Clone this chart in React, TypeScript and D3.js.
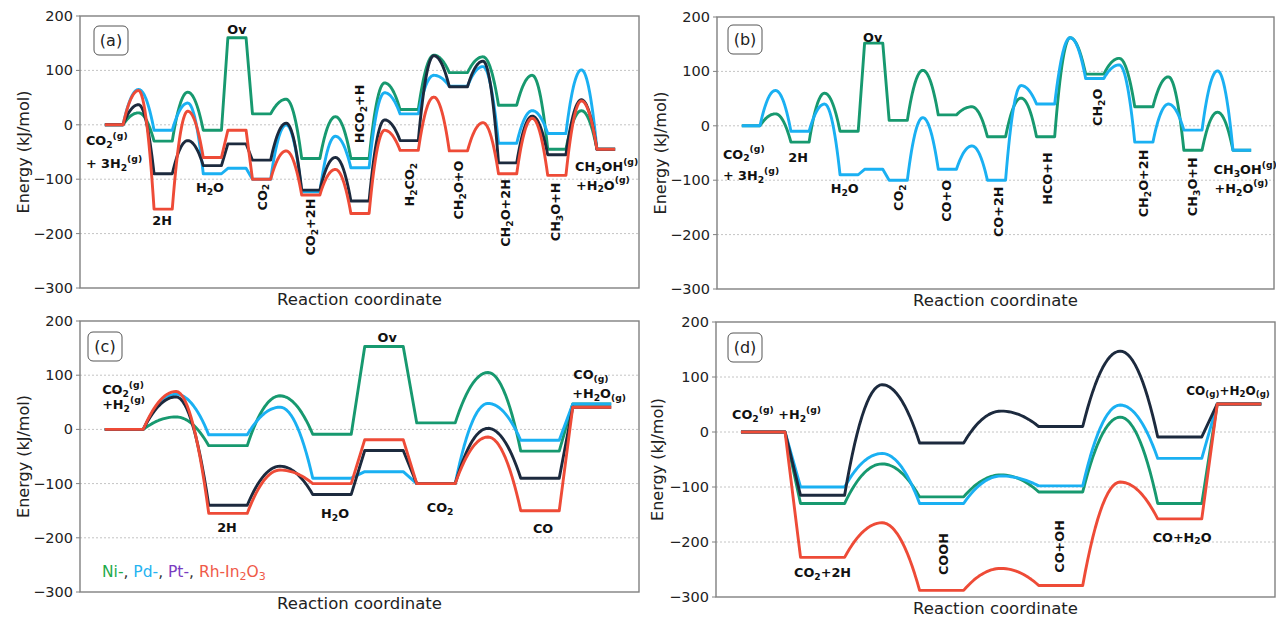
import React from 'react'
import * as d3 from 'd3'

const FONT = 'DejaVu Sans, Verdana, sans-serif'
const COLORS = { Ni: '#17996f', Pd: '#1ab0f2', Pt: '#1c2a3e', Rh: '#ee4b37' }
const Y_TICKS = [200, 100, 0, -100, -200, -300]
const GRID = [100, 0, -100, -200]
const HALF = 0.185 // half width of a plateau, in state units

// (a) CO2 -> CH3OH, four metals
const aPos = [0, 1, 2, 2.5, 3, 4, 5, 6, 7, 8, 9, 10]
const aKind = ['arc', 'arc', 'line', 'line', 'arc', 'arc', 'arc', 'arc', 'arc', 'arc', 'arc']
const aNi = [0, -30, -10, 160, 20, -62, -62, 28, 96, 36, -45, -45]
const aNiTS = [22, 60, null, null, 47, 15, 77, 128, 125, 91, 26]
const aPd = [0, -10, -90, -80, -100, -123, -79, 20, 71, -34, -16, -45]
const aPdTS = [65, 40, null, null, 0, -21, 59, 91, 107, 26, 101]
const aPt = [0, -90, -75, -35, -65, -120, -140, -29, 70, -70, -55, -45]
const aPtTS = [37, -29, null, null, 3, -60, 9, 127, 117, 16, 46]
const aRh = [0, -155, -60, -10, -100, -129, -163, -47, -48, -90, -93, -45]
const aRhTS = [63, 25, null, null, -48, -82, -10, 51, 4, 12, 44]

// (b) CO2 -> CH3OH via CO, Ni and Pd
const bPos = [0, 1, 2, 2.5, 3, 4, 5, 6, 7, 8, 9, 10]
const bKind = ['arc', 'arc', 'line', 'line', 'arc', 'arc', 'arc', 'arc', 'arc', 'arc', 'arc']
const bNi = [0, -30, -10, 152, 10, 20, -20, -20, 95, 35, -45, -45]
const bNiTS = [22, 60, null, null, 102, 35, 51, 162, 124, 90, 25]
const bPd = [0, -10, -90, -80, -100, -80, -100, 40, 87, -30, -8, -45]
const bPdTS = [65, 40, null, null, 15, -37, 74, 162, 112, 40, 101]

// (c) RWGS, redox path
const cPos = [0, 1, 2, 2.5, 3, 4, 4.5]
const cKind = ['arc', 'arc', 'line', 'line', 'arc', 'line']
const cNi = [0, -30, -9, 153, 12, -40, 47]
const cNiTS = [23, 62, null, null, 105, null]
const cPd = [0, -10, -90, -78, -100, -20, 47]
const cPdTS = [65, 41, null, null, 48, null]
const cPt = [0, -140, -120, -39, -100, -90, 41]
const cPtTS = [60, -68, null, null, 2, null]
const cRh = [0, -155, -100, -19, -100, -150, 41]
const cRhTS = [70, -75, null, null, -14, null]

// (d) RWGS, COOH path
const dPos = [0, 0.5, 1.5, 2.5, 3.5, 4]
const dKind = ['line', 'arc', 'arc', 'arc', 'line']
const dNi = [0, -130, -118, -109, -130, 51]
const dNiTS = [null, -58, -78, 27, null]
const dPd = [0, -100, -130, -98, -48, 51]
const dPdTS = [null, -39, -80, 49, null]
const dPt = [0, -115, -20, 10, -9, 51]
const dPtTS = [null, 86, 38, 147, null]
const dRh = [0, -228, -288, -279, -158, 51]
const dRhTS = [null, -165, -248, -91, null]

// annotations: text, x (state units), y (kJ/mol), r = rotated, a = anchor
const aLabels = [
  { t: 'CO_{2}^{(g)}', x: -0.57, y: -28, a: 'start' },
  { t: '+ 3H_{2}^{(g)}', x: -0.57, y: -70, a: 'start' },
  { t: '2H', x: 0.98, y: -175 },
  { t: 'H_{2}O', x: 1.95, y: -114 },
  { t: 'Ov', x: 2.5, y: 176 },
  { t: 'CO_{2}', x: 3.0, y: -133, r: true },
  { t: 'CO_{2}+2H', x: 3.98, y: -188, r: true },
  { t: 'HCO_{2}+H', x: 4.98, y: 20, r: true },
  { t: 'H_{2}CO_{2}', x: 6.0, y: -110, r: true },
  { t: 'CH_{2}O+O', x: 7.0, y: -120, r: true },
  { t: 'CH_{2}O+2H', x: 7.95, y: -162, r: true },
  { t: 'CH_{3}O+H', x: 8.96, y: -160, r: true },
  { t: 'CH_{3}OH^{(g)}', x: 9.37, y: -76, a: 'start' },
  { t: '+H_{2}O^{(g)}', x: 9.39, y: -110, a: 'start' },
]
const bLabels = [
  { t: 'Ov', x: 2.48, y: 164 },
  { t: 'CO_{2}^{(g)}', x: -0.57, y: -51, a: 'start' },
  { t: '+ 3H_{2}^{(g)}', x: -0.57, y: -91, a: 'start' },
  { t: '2H', x: 0.96, y: -58 },
  { t: 'H_{2}O', x: 1.91, y: -115 },
  { t: 'CO_{2}', x: 3.0, y: -132, r: true },
  { t: 'CO+O', x: 3.97, y: -138, r: true },
  { t: 'CO+2H', x: 5.03, y: -158, r: true },
  { t: 'HCO+H', x: 6.03, y: -97, r: true },
  { t: 'CH_{2}O', x: 7.05, y: 34, r: true },
  { t: 'CH_{2}O+2H', x: 7.98, y: -106, r: true },
  { t: 'CH_{3}O+H', x: 8.98, y: -112, r: true },
  { t: 'CH_{3}OH^{(g)}', x: 9.42, y: -80, a: 'start' },
  { t: '+H_{2}O^{(g)}', x: 9.44, y: -114, a: 'start' },
]
const cLabels = [
  { t: 'CO_{2}^{(g)}', x: -0.21, y: 74, a: 'start' },
  { t: '+H_{2}^{(g)}', x: -0.21, y: 46, a: 'start' },
  { t: '2H', x: 0.99, y: -180 },
  { t: 'H_{2}O', x: 2.03, y: -154 },
  { t: 'Ov', x: 2.53, y: 171 },
  { t: 'CO_{2}', x: 3.04, y: -143 },
  { t: 'CO', x: 4.03, y: -182 },
  { t: 'CO_{(g)}', x: 4.32, y: 102, a: 'start' },
  { t: '+H_{2}O_{(g)}', x: 4.31, y: 67, a: 'start' },
]
const dLabels = [
  { t: 'CO_{2}^{(g)} +H_{2}^{(g)}', x: -0.26, y: 32, a: 'start' },
  { t: 'CO_{2}+2H', x: 0.5, y: -255 },
  { t: 'COOH', x: 1.51, y: -222, r: true },
  { t: 'CO+OH', x: 2.49, y: -208, r: true },
  { t: 'CO+H_{2}O', x: 3.52, y: -190 },
  { t: 'CO_{(g)}+H_{2}O_{(g)}', x: 3.555, y: 75, a: 'start', fs: 12 },
]

const legendParts = [
  { t: 'Ni-', c: '#1faa4c' },
  { t: ', ', c: '#333' },
  { t: 'Pd-', c: '#26b3f0' },
  { t: ', ', c: '#333' },
  { t: 'Pt-', c: '#7a3cc0' },
  { t: ', ', c: '#333' },
  { t: 'Rh-In_{2}O_{3}', c: '#ef5a48' },
]

function profile(pos, kind, lv, ts) {
  const pts = []
  const N = 30
  for (let i = 0; i < pos.length; i++) {
    pts.push([pos[i] - HALF, lv[i]], [pos[i] + HALF, lv[i]])
    if (i < pos.length - 1 && kind[i] === 'arc') {
      const xs = pos[i] + HALF
      const xe = pos[i + 1] - HALF
      const xm = (xs + xe) / 2
      const P = ts[i]
      for (let k = 1; k < N; k++) {
        const xx = xs + (xe - xs) * (k / N)
        const u = (xx - xm) / (xm - xs)
        const yEnd = u < 0 ? lv[i] : lv[i + 1]
        pts.push([xx, P - (P - yEnd) * u * u])
      }
    }
  }
  return pts
}

function Rich({ text, fs }) {
  const parts = text.split(/(_\{[^}]*\}|\^\{[^}]*\})/).filter(Boolean)
  let cur = 0
  return (
    <>
      {parts.map((p, i) => {
        let target = 0
        let s = p
        let size = fs
        if (p.startsWith('_{')) { target = 0.3 * fs; s = p.slice(2, -1); size = fs * 0.72 }
        else if (p.startsWith('^{')) { target = -0.42 * fs; s = p.slice(2, -1); size = fs * 0.72 }
        const dy = target - cur
        cur = target
        return <tspan key={i} dy={dy} fontSize={size}>{s}</tspan>
      })}
    </>
  )
}

function Panel({ p }) {
  const { l, r, t, b } = p.box
  const x = d3.scaleLinear().domain(p.xDom).range([l, r])
  const y = d3.scaleLinear().domain([-300, 200]).range([b, t])
  const line = d3.line().x(d => x(d[0])).y(d => y(d[1]))

  return (
    <g>
      {GRID.map(v => (
        <line key={v} x1={l} x2={r} y1={y(v)} y2={y(v)}
          stroke="#c4c4c4" strokeWidth={1} strokeDasharray="2,2" />
      ))}
      {p.series.map(s => (
        <path key={s.name} d={line(profile(p.pos, p.kind, s.lv, s.ts))}
          fill="none" stroke={COLORS[s.name]} strokeWidth={2.9} strokeLinejoin="round" />
      ))}
      <rect x={l} y={t} width={r - l} height={b - t} fill="none" stroke="#808080" strokeWidth={1.4} />
      {Y_TICKS.map(v => (
        <g key={v}>
          <line x1={l - 4} x2={l} y1={y(v)} y2={y(v)} stroke="#808080" strokeWidth={1} />
          <text x={l - 7} y={y(v)} textAnchor="end" dominantBaseline="central"
            fontSize={14.5} fill="#222" fontFamily={FONT}>
            {v < 0 ? '\u2212' + Math.abs(v) : v}
          </text>
        </g>
      ))}
      <text x={(l + r) / 2} y={b + 17} textAnchor="middle" fontSize={16.5} fill="#222" fontFamily={FONT}>
        Reaction coordinate
      </text>
      <text transform={`translate(${p.ylabX},${(t + b) / 2}) rotate(-90)`} textAnchor="middle"
        dominantBaseline="central" fontSize={16} fill="#222" fontFamily={FONT}>
        Energy (kJ/mol)
      </text>
      <rect x={p.tag.x} y={p.tag.y} width={34} height={29} rx={5} fill="#fff" stroke="#555" strokeWidth={1} />
      <text x={p.tag.x + 17} y={p.tag.y + 14.5} textAnchor="middle" dominantBaseline="central"
        fontSize={16} fill="#222" fontFamily={FONT}>({p.id})</text>
      {p.labels.map((lb, i) => (
        <text key={i}
          transform={lb.r
            ? `translate(${x(lb.x)},${y(lb.y)}) rotate(-90)`
            : `translate(${x(lb.x)},${y(lb.y)})`}
          textAnchor={lb.a || 'middle'} dominantBaseline="central"
          fontSize={lb.fs || 12.8} fontWeight="bold" fill="#111" fontFamily={FONT}>
          <Rich text={lb.t} fs={lb.fs || 12.8} />
        </text>
      ))}
    </g>
  )
}

const panels = [
  {
    id: 'a', box: { l: 80, r: 639, t: 16, b: 288 }, xDom: [-0.69, 10.67], ylabX: 23,
    tag: { x: 94, y: 26 }, pos: aPos, kind: aKind, labels: aLabels,
    series: [
      { name: 'Ni', lv: aNi, ts: aNiTS }, { name: 'Pd', lv: aPd, ts: aPdTS },
      { name: 'Pt', lv: aPt, ts: aPtTS }, { name: 'Rh', lv: aRh, ts: aRhTS },
    ],
  },
  {
    id: 'b', box: { l: 717, r: 1274, t: 17, b: 289 }, xDom: [-0.69, 10.65], ylabX: 660,
    tag: { x: 728, y: 25 }, pos: bPos, kind: bKind, labels: bLabels,
    series: [{ name: 'Ni', lv: bNi, ts: bNiTS }, { name: 'Pd', lv: bPd, ts: bPdTS }],
  },
  {
    id: 'c', box: { l: 80, r: 639, t: 321, b: 592 }, xDom: [-0.423, 4.952], ylabX: 23,
    tag: { x: 88, y: 332 }, pos: cPos, kind: cKind, labels: cLabels,
    series: [
      { name: 'Ni', lv: cNi, ts: cNiTS }, { name: 'Pd', lv: cPd, ts: cPdTS },
      { name: 'Pt', lv: cPt, ts: cPtTS }, { name: 'Rh', lv: cRh, ts: cRhTS },
    ],
  },
  {
    id: 'd', box: { l: 716, r: 1275, t: 322, b: 597 }, xDom: [-0.395, 4.3], ylabX: 657,
    tag: { x: 728, y: 333 }, pos: dPos, kind: dKind, labels: dLabels,
    series: [
      { name: 'Ni', lv: dNi, ts: dNiTS }, { name: 'Pd', lv: dPd, ts: dPdTS },
      { name: 'Pt', lv: dPt, ts: dPtTS }, { name: 'Rh', lv: dRh, ts: dRhTS },
    ],
  },
]

export default function App() {
  return (
    <svg width={1276} height={617} style={{ position: 'absolute', left: 0, top: 0, background: '#fff' }}>
      {panels.map(p => <Panel key={p.id} p={p} />)}
      <text x={102} y={572} dominantBaseline="central" fontSize={15.5} fontFamily={FONT}>
        {legendParts.map((lp, i) => {
          const parts = lp.t.split(/(_\{[^}]*\})/).filter(Boolean)
          return parts.map((s, j) => s.startsWith('_{')
            ? <tspan key={i + '-' + j} fill={lp.c} fontSize={11} dy={4}>{s.slice(2, -1)}</tspan>
            : <tspan key={i + '-' + j} fill={lp.c} dy={j > 0 ? -4 : 0}>{s}</tspan>)
        })}
      </text>
    </svg>
  )
}
